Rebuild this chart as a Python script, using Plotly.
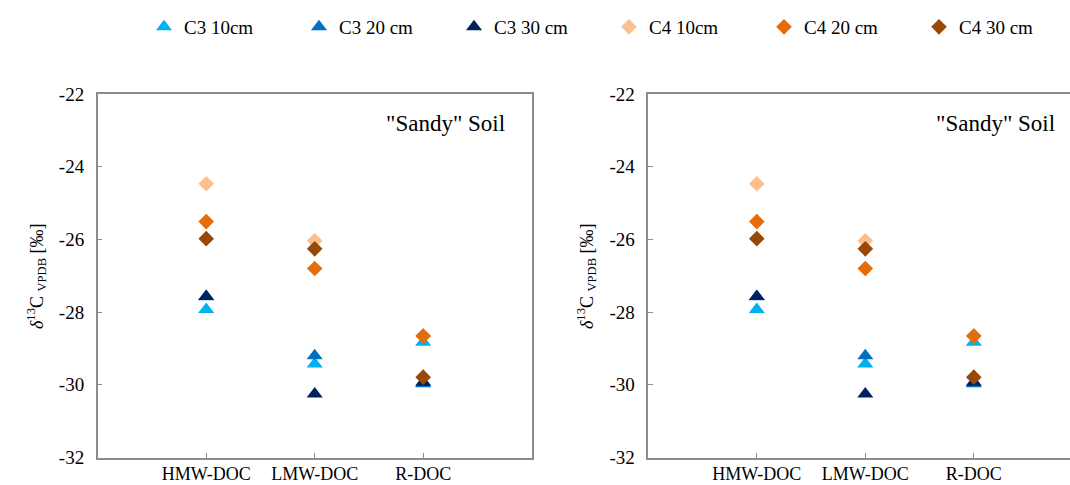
import plotly.graph_objects as go

categories = ["HMW-DOC", "LMW-DOC", "R-DOC"]
cat_pos = [1, 2, 3]
series_names = ["C3 10cm", "C3 20 cm", "C3 30 cm", "C4 10cm", "C4 20 cm", "C4 30 cm"]
c3_10 = [-27.93, -29.43, -28.83]
c3_20 = [-27.58, -29.20, -29.97]
c3_30 = [-27.57, -30.25, -29.93]
c4_10 = [-24.47, -26.04, -28.65]
c4_20 = [-25.51, -26.80, -28.66]
c4_30 = [-25.98, -26.26, -29.79]
y_ticks = [-22, -24, -26, -28, -30, -32]
panel_label = '"Sandy" Soil'

series_values = [c3_10, c3_20, c3_30, c4_10, c4_20, c4_30]
colors = ["#00B0F0", "#0070C0", "#002060", "#FAC090", "#E46C0A", "#984807"]
symbols = ["triangle-up"] * 3 + ["diamond"] * 3
sizes = [14, 14, 14, 12, 12, 12]

W, H = 1070, 485
FONT = "'Liberation Serif', 'Times New Roman', 'DejaVu Serif', serif"
AX = "#8C8C8C"

fig = go.Figure()
for panel, (xa, ya) in enumerate([("x", "y"), ("x2", "y2")]):
    for name, vals, col, sym, sz in zip(series_names, series_values, colors, symbols, sizes):
        fig.add_trace(go.Scatter(
            x=cat_pos, y=vals, mode="markers", name=name,
            marker=dict(symbol=sym, size=sz, color=col, line=dict(width=0)),
            xaxis=xa, yaxis=ya, showlegend=(panel == 0),
        ))

y_dom = [(H - 457.5) / H, (H - 94) / H]
left_dom = [97.7 / W, 531.7 / W]
right_dom = [648.3 / W, 1.0]
right_max = 4 * (W - 648.3) / 434.0

common_x = dict(tickvals=cat_pos, ticktext=categories, ticks="inside", ticklen=5,
                tickcolor=AX, tickwidth=1.3, showline=True, linecolor=AX, linewidth=1.5,
                mirror=True, showgrid=False, zeroline=False, fixedrange=True, automargin=False,
                tickfont=dict(family=FONT, size=18, color="black"), ticklabelstandoff=-1)
common_y = dict(range=[-32, -22], tickvals=y_ticks, ticktext=[str(v) for v in y_ticks],
                ticks="inside", ticklen=5, tickcolor=AX, tickwidth=1.3, showline=True,
                linecolor=AX, linewidth=1.5, showgrid=False, zeroline=False, automargin=False,
                tickfont=dict(family=FONT, size=19, color="black"), ticklabelstandoff=8)

fig.update_layout(
    width=W, height=H,
    margin=dict(l=0, r=0, t=0, b=0, autoexpand=False),
    paper_bgcolor="white", plot_bgcolor="white",
    xaxis=dict(domain=left_dom, range=[0, 4], anchor="y", **common_x),
    yaxis=dict(domain=y_dom, anchor="x", mirror=True, **common_y),
    xaxis2=dict(domain=right_dom, range=[0, right_max], anchor="y2", **common_x),
    yaxis2=dict(domain=y_dom, anchor="x2", mirror=False, **common_y),
    legend=dict(orientation="h", x=144 / W, xanchor="left", y=1 - 8 / H, yanchor="top",
                entrywidth=110, entrywidthmode="pixels", itemwidth=30,
                font=dict(family=FONT, size=19, color="black"), bgcolor="rgba(0,0,0,0)"),
    showlegend=True,
)

ytitle = "<i>δ</i><sup>13</sup>C <sub>VPDB</sub> [‰]"
for xc in [36, 586]:
    fig.add_annotation(text=ytitle, x=xc / W, y=1 - 276 / H, xref="paper", yref="paper",
                       textangle=-90, showarrow=False, xanchor="center", yanchor="middle",
                       font=dict(family=FONT, size=18, color="black"))
for xr in [507, 1057]:
    fig.add_annotation(text=panel_label, x=xr / W, y=1 - 123 / H, xref="paper", yref="paper",
                       showarrow=False, xanchor="right", yanchor="middle",
                       font=dict(family=FONT, size=23, color="black"))

fig.write_html("out.html")
